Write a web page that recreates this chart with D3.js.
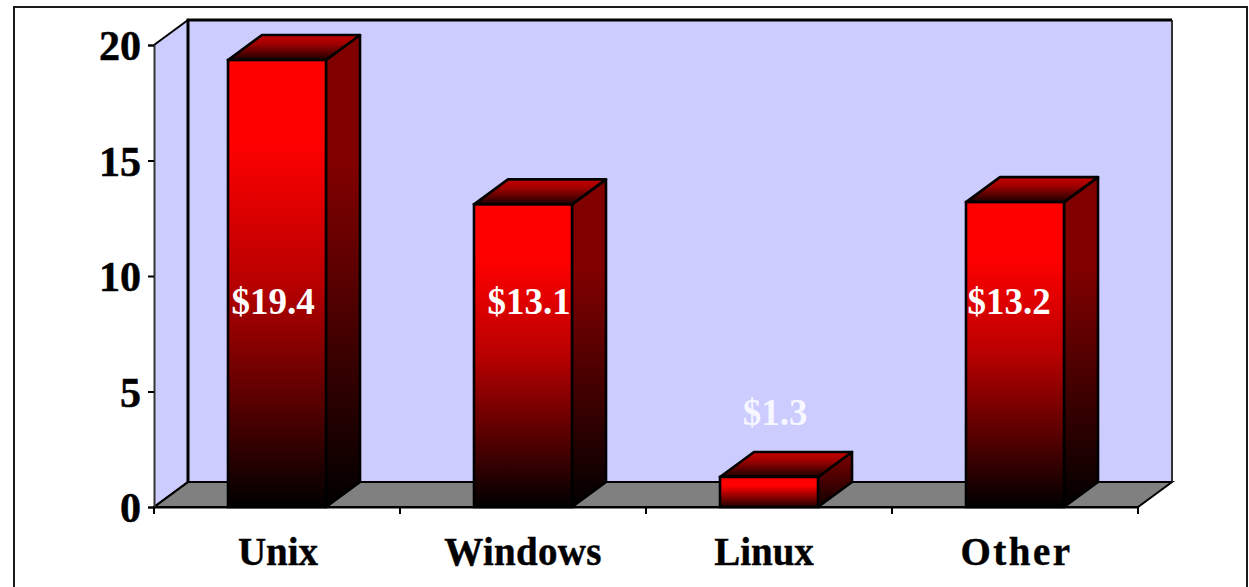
<!DOCTYPE html>
<html>
<head>
<meta charset="utf-8">
<script src="https://d3js.org/d3.v7.min.js"></script>
<style>
html,body{margin:0;padding:0;background:#fff;overflow:hidden}
svg{display:block}
text{font-family:"Liberation Serif",serif;font-weight:bold}
</style>
</head>
<body>
<svg id="c" width="1249" height="587"></svg>
<script>
const categories = ["Unix","Windows","Linux","Other"];
const values = [19.35,13.1,1.3,13.2];
const valueLabels = ["$19.4","$13.1","$1.3","$13.2"];
const yTicks = [0,5,10,15,20];

const svg = d3.select("#c");
const W = 1249, H = 587;
const m = {left:154, right:1138, top:45, bottom:507};
const dx = 34, dy = -25;
const x = d3.scaleBand().domain(categories).range([m.left,m.right]);
const y = d3.scaleLinear().domain([0,20]).range([m.bottom,m.top]);
const barW = 98;
const labelNudge = [-4,6,6,-6];
const catNudge = [1,0,-5,1.5];
const catSpacing = [0,0.3,0,2.5];
const poly = p => p.map(q=>q.join(",")).join(" ");

const defs = svg.append("defs");
function grad(id,stops){
  const g = defs.append("linearGradient").attr("id",id).attr("x1",0).attr("y1",0).attr("x2",0).attr("y2",1);
  stops.forEach(s=>g.append("stop").attr("offset",s[0]).attr("stop-color",s[1]));
}
grad("front",[[0,"#ff0000"],[0.18,"#ff0000"],[0.5,"#b80000"],[0.76,"#5a0000"],[1,"#000000"]]);
grad("side",[[0,"#800000"],[0.28,"#800000"],[0.5,"#5c0000"],[0.76,"#2c0000"],[1,"#000000"]]);
grad("top",[[0,"#c80000"],[0.35,"#a00000"],[1,"#1a0000"]]);
grad("frontS",[[0,"#ff0000"],[0.3,"#ff0000"],[1,"#200000"]]);
grad("sideS",[[0,"#800000"],[1,"#100000"]]);

// frame
svg.append("rect").attr("x",14).attr("y",7).attr("width",1233).attr("height",H+20)
  .attr("fill","#fff").attr("stroke","#1a1a1a").attr("stroke-width",2);

// walls and floor
svg.append("polygon").attr("points",poly([[m.left,m.bottom],[m.left,m.top],[m.left+dx,m.top+dy],[m.left+dx,m.bottom+dy]]))
  .attr("fill","#ccccff");
svg.append("polygon").attr("points",poly([[m.left,m.bottom],[m.right,m.bottom],[m.right+dx,m.bottom+dy],[m.left+dx,m.bottom+dy]]))
  .attr("fill","#808080").attr("stroke","#000").attr("stroke-width",2);
svg.append("rect").attr("x",m.left+dx).attr("y",m.top+dy).attr("width",m.right-m.left)
  .attr("height",m.bottom-m.top).attr("fill","#ccccff").attr("stroke","none");
svg.append("line").attr("x1",m.right+dx).attr("x2",m.right+dx).attr("y1",m.top+dy).attr("y2",m.bottom+dy)
  .attr("stroke","#333").attr("stroke-width",2);
svg.append("path").attr("d",`M${m.left+dx},${m.bottom+dy}V${m.top+dy}H${m.right+dx}`)
  .attr("fill","none").attr("stroke","#000").attr("stroke-width",3);
svg.append("line").attr("x1",m.left+dx).attr("x2",m.right+dx).attr("y1",m.bottom+dy).attr("y2",m.bottom+dy)
  .attr("stroke","#000").attr("stroke-width",2);
svg.append("line").attr("x1",m.left).attr("x2",m.left+dx).attr("y1",m.top).attr("y2",m.top+dy)
  .attr("stroke","#000").attr("stroke-width",2);
svg.append("line").attr("x1",m.left).attr("x2",m.left+dx).attr("y1",m.bottom).attr("y2",m.bottom+dy)
  .attr("stroke","#000").attr("stroke-width",2);

// bars
const bars = svg.selectAll("g.bar").data(categories.map((c,i)=>({c,v:values[i]}))).join("g").attr("class","bar");
const bx = d => x(d.c)+x.bandwidth()/2-barW/2;
const small = d => d.v < 3;
bars.append("polygon")
  .attr("points",d=>{const l=bx(d),t=y(d.v),b=y(0),r=l+barW;return poly([[r,b],[r,t],[r+dx,t+dy],[r+dx,b+dy]]);})
  .attr("fill",d=>small(d)?"url(#sideS)":"url(#side)").attr("stroke","#000").attr("stroke-width",2.6).attr("stroke-linejoin","round");
bars.append("polygon")
  .attr("points",d=>{const l=bx(d),t=y(d.v),r=l+barW;return poly([[l,t],[r,t],[r+dx,t+dy],[l+dx,t+dy]]);})
  .attr("fill","url(#top)").attr("stroke","#000").attr("stroke-width",2.6).attr("stroke-linejoin","round");
bars.append("rect")
  .attr("x",bx).attr("y",d=>y(d.v)).attr("width",barW).attr("height",d=>y(0)-y(d.v))
  .attr("fill",d=>small(d)?"url(#frontS)":"url(#front)").attr("stroke","#000").attr("stroke-width",2.6);

// axes
const gy = svg.append("g").attr("transform",`translate(${m.left},0)`)
  .call(d3.axisLeft(y).tickValues(yTicks).tickSize(6).tickPadding(7).tickFormat(d3.format("d")));
gy.select(".domain").attr("stroke","#333").attr("stroke-width",2);
gy.selectAll(".tick line").attr("stroke","#000").attr("stroke-width",2);
gy.selectAll("text").attr("font-size",42).attr("fill","#000").attr("stroke","#000").attr("stroke-width",0.5)
  .attr("transform","translate(0,1.5)")
  .style("font-family",'"Liberation Serif",serif').style("font-weight","bold");

const gx = svg.append("g").attr("transform",`translate(0,${m.bottom})`)
  .call(d3.axisBottom(x).tickSize(0).tickPadding(30));
gx.select(".domain").attr("stroke","#000").attr("stroke-width",2);
gx.selectAll("text").attr("font-size",39).attr("fill","#000").attr("stroke","#000").attr("stroke-width",0.4)
  .attr("dx",(d,i)=>catNudge[i]).style("letter-spacing",(d,i)=>catSpacing[i]+"px")
  .style("font-family",'"Liberation Serif",serif').style("font-weight","bold");
svg.append("g").selectAll("line").data(x.domain().map(c=>x(c)).concat(m.right)).join("line")
  .attr("x1",d=>d).attr("x2",d=>d).attr("y1",m.bottom).attr("y2",m.bottom+7)
  .attr("stroke","#000").attr("stroke-width",2);

// value labels
svg.append("g").selectAll("text").data(values).join("text")
  .attr("x",(d,i)=>x(categories[i])+x.bandwidth()/2+labelNudge[i])
  .attr("y",d=> d<3 ? y(3.55) : y(8.37))
  .attr("text-anchor","middle").attr("font-size",37).attr("fill","#fff")
  .attr("fill-opacity",d=>d<3?0.85:1)
  .text((d,i)=>valueLabels[i]);
</script>
</body>
</html>
